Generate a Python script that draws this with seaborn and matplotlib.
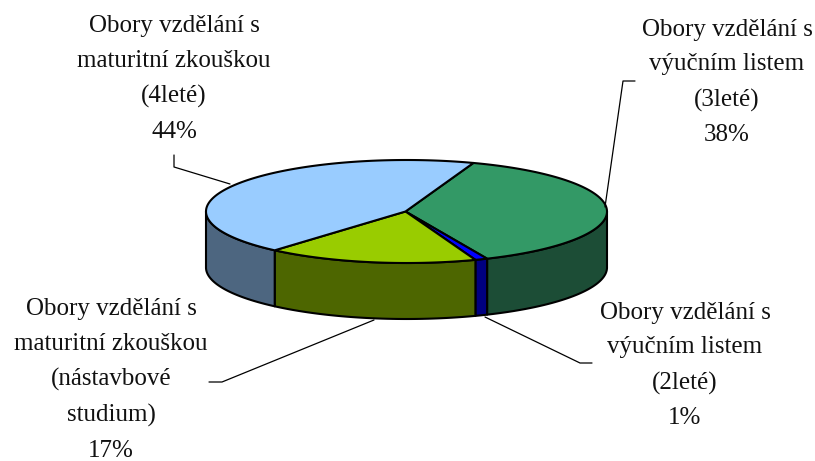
import matplotlib
matplotlib.use("Agg")
import matplotlib.pyplot as plt
import numpy as np
import seaborn as sns

# shares in percent, clockwise from the first slice
labels = [
    "Obory vzdělání s\nvýučním listem\n(3leté)\n38%",
    "Obory vzdělání s\nvýučním listem\n(2leté)\n1%",
    "Obory vzdělání s\nmaturitní zkouškou\n(nástavbové\nstudium)\n17%",
    "Obory vzdělání s\nmaturitní zkouškou\n(4leté)\n44%",
]
shares = [38, 1, 17, 44]
top_colors = ["#339966", "#0000FF", "#99CC00", "#99CCFF"]
side_colors = ["#1C4D36", "#000080", "#4D6600", "#4D6680"]

sns.set_theme(style="white")
plt.rcParams["font.family"] = ["Liberation Serif", "DejaVu Serif"]

# pie geometry in pixels
CX, CY = 406.5, 211.5
RX, RY = 200.5, 51.5
DEPTH = 56
START = 19.5


def rim(deg):
    a = np.radians(deg)
    return CX + RX * np.sin(a), CY - RY * np.cos(a)


fig, ax = plt.subplots(figsize=(8.15, 4.61), dpi=100)
fig.subplots_adjust(0, 0, 1, 1)
ax.set_xlim(0, 815)
ax.set_ylim(461, 0)
ax.axis("off")

edges = START + np.cumsum([0] + shares) * 3.6
palette = sns.color_palette(top_colors)
side_palette = sns.color_palette(side_colors)
style = dict(edgecolor="black", linewidth=1.5, joinstyle="round")

# walls first, only the front half of the pie shows
for i in range(len(shares)):
    lo, hi = max(edges[i], 90), min(edges[i + 1], 270)
    if hi <= lo:
        continue
    x, y = rim(np.linspace(lo, hi, 80))
    ax.fill(np.r_[x, x[::-1]], np.r_[y, y[::-1] + DEPTH], facecolor=side_palette[i], **style)

# then the top of each slice
for i in range(len(shares)):
    x, y = rim(np.linspace(edges[i], edges[i + 1], 120))
    ax.fill(np.r_[CX - 1, x], np.r_[CY, y], facecolor=palette[i], **style)

# leader lines
leaders = [
    ([605, 623, 635], [207, 81, 81]),
    ([485, 580, 592], [317, 363, 363]),
    ([374, 222, 209], [320, 382, 382]),
    ([230, 174, 174], [184, 167, 155]),
]
for lx, ly in leaders:
    ax.plot(lx, ly, color="black", linewidth=0.9, zorder=1)

label_pos = [(727, 82.5), (685, 365.5), (111, 380), (174, 79)]
for text, (tx, ty) in zip(labels, label_pos):
    ax.text(tx, ty, text, ha="center", va="center", fontsize=18, linespacing=1.74, color="#111111")

fig.savefig("out.png", dpi=100)
